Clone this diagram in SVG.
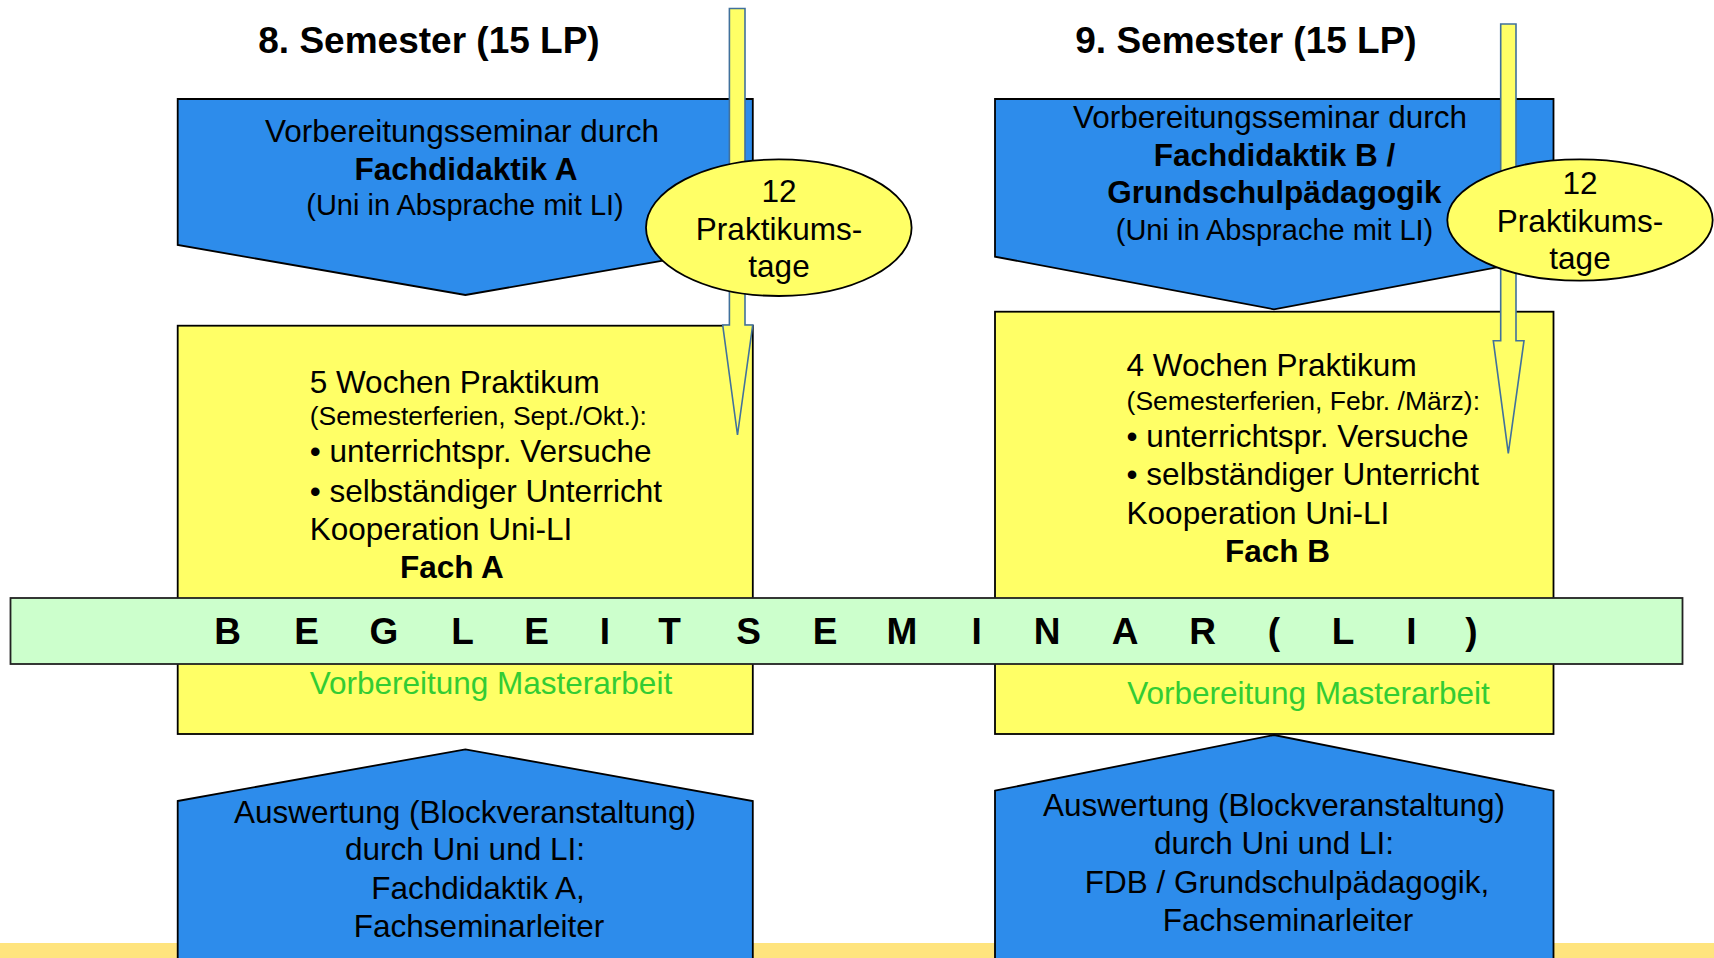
<svg xmlns="http://www.w3.org/2000/svg" width="1714" height="958" viewBox="0 0 1714 958">
<style>
  text { font-family: "Liberation Sans", Arial, sans-serif; fill: #000; }
  .blue { fill: #2D8CEB; stroke: #000; stroke-width: 1.8; }
  .yel { fill: #FFFF66; stroke: #000; stroke-width: 1.8; }
  .band { fill: #CCFFCC; stroke: #222; stroke-width: 1.8; }
  .arrow { fill: #FFFF66; stroke: #41719C; stroke-width: 1.6; }
  .ell { fill: #FFFF66; stroke: #000; stroke-width: 1.8; }
  .title { font-size: 37px; font-weight: bold; text-anchor: middle; }
  .c { text-anchor: middle; }
  .t31 { font-size: 31.5px; }
  .t29 { font-size: 29px; }
  .t26 { font-size: 26.5px; }
  .b { font-weight: bold; }
  .green { fill: #33CC33; font-size: 31.5px; }
  .beg { font-size: 37px; font-weight: bold; text-anchor: middle; }
</style>

<rect id="bottom-strip" x="0" y="943" width="1714" height="15" fill="#FFE47E"/>

<text class="title" x="429" y="53">8. Semester (15 LP)</text>
<text class="title" x="1246" y="53">9. Semester (15 LP)</text>

<g id="vorbereitung-a">
  <polygon class="blue" points="177.7,99 752.8,99 752.8,245 465.4,295 177.7,245"/>
  <text class="c t31" x="462" y="142">Vorbereitungsseminar durch</text>
  <text class="c t31 b" x="466" y="180">Fachdidaktik A</text>
  <text class="c t29" x="465" y="215">(Uni in Absprache mit LI)</text>
</g>

<g id="vorbereitung-b">
  <polygon class="blue" points="995,99 1553.5,99 1553.5,256.7 1274,309.3 995,256.7"/>
  <text class="c t31" x="1270" y="128">Vorbereitungsseminar durch</text>
  <text class="c t31 b" x="1274.5" y="166">Fachdidaktik B /</text>
  <text class="c t31 b" x="1274.5" y="203">Grundschulpädagogik</text>
  <text class="c t29" x="1274.5" y="239.5">(Uni in Absprache mit LI)</text>
</g>

<g id="praktikum-a">
  <rect class="yel" x="177.7" y="325.7" width="575.1" height="408.3"/>
  <text class="t31" x="309.7" y="393">5 Wochen Praktikum</text>
  <text class="t26" x="309.7" y="425">(Semesterferien, Sept./Okt.):</text>
  <text class="t31" x="309.7" y="462">• unterrichtspr. Versuche</text>
  <text class="t31" x="309.7" y="501.5">• selbständiger Unterricht</text>
  <text class="t31" x="309.7" y="539.5">Kooperation Uni-LI</text>
  <text class="t31 b" x="400" y="578">Fach A</text>
  <text class="green" x="309.7" y="694">Vorbereitung Masterarbeit</text>
</g>

<g id="praktikum-b">
  <rect class="yel" x="995" y="311.7" width="558.5" height="422.3"/>
  <text class="t31" x="1126.6" y="376">4 Wochen Praktikum</text>
  <text class="t26" x="1126.6" y="410">(Semesterferien, Febr. /März):</text>
  <text class="t31" x="1126.6" y="447">• unterrichtspr. Versuche</text>
  <text class="t31" x="1126.6" y="485">• selbständiger Unterricht</text>
  <text class="t31" x="1126.6" y="523.5">Kooperation Uni-LI</text>
  <text class="t31 b" x="1225" y="562">Fach B</text>
  <text class="green" x="1127.3" y="704">Vorbereitung Masterarbeit</text>
</g>

<g id="auswertung-a">
  <polygon class="blue" points="177.7,801 465.4,749.3 752.8,801 752.8,966 177.7,966"/>
  <text class="c t31" x="465" y="823">Auswertung (Blockveranstaltung)</text>
  <text class="c t31" x="465" y="860">durch Uni und LI:</text>
  <text class="c t31" x="478" y="898.5">Fachdidaktik A,</text>
  <text class="c t31" x="479" y="937">Fachseminarleiter</text>
</g>

<g id="auswertung-b">
  <polygon class="blue" points="995,790.7 1274,735 1553.5,790.7 1553.5,966 995,966"/>
  <text class="c t31" x="1274" y="816">Auswertung (Blockveranstaltung)</text>
  <text class="c t31" x="1274" y="853.5">durch Uni und LI:</text>
  <text class="c t31" x="1287" y="892.5">FDB / Grundschulpädagogik,</text>
  <text class="c t31" x="1288" y="931">Fachseminarleiter</text>
</g>

<g id="connectors">
  <polygon class="arrow" points="729.4,8.5 745,8.5 745,325 752.7,325 737.5,435 722.7,325 729.4,325"/>
  <polygon class="arrow" points="1500.7,24 1516,24 1516,340.7 1524,340.7 1508.3,453.3 1493.3,340.7 1500.7,340.7"/>
</g>

<g id="praktikumstage-a">
  <ellipse class="ell" cx="778.8" cy="227.7" rx="132.8" ry="68.3"/>
  <text class="c t31" x="779" y="202">12</text>
  <text class="c t31" x="779" y="239.5">Praktikums-</text>
  <text class="c t31" x="779" y="277">tage</text>
</g>

<g id="praktikumstage-b">
  <ellipse class="ell" cx="1580" cy="220" rx="132.7" ry="60.7"/>
  <text class="c t31" x="1580" y="194">12</text>
  <text class="c t31" x="1580" y="231.5">Praktikums-</text>
  <text class="c t31" x="1580" y="269">tage</text>
</g>

<g id="begleitseminar">
  <rect class="band" x="10.5" y="598" width="1672" height="66"/>
  <text class="beg" y="644" x="227.5 306.5 384 462.5 536.5 605 669.5 748.5 825 902 976.6 1047 1125 1202.5 1274 1343 1411.5 1471.5">BEGLEITSEMINAR(LI)</text>
</g>
</svg>
